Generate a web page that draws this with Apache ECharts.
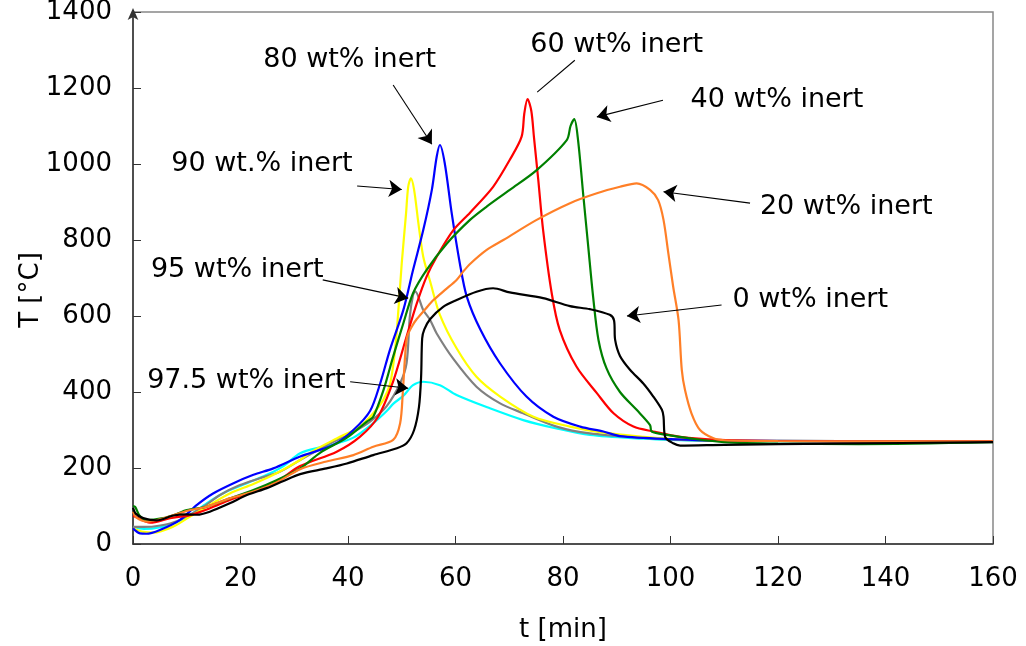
<!DOCTYPE html>
<html><head><meta charset="utf-8">
<script src="https://cdn.jsdelivr.net/npm/echarts@6/dist/echarts.min.js"></script>
<style>html,body{margin:0;padding:0;background:#fff}#c{width:1026px;height:646px}</style>
</head><body><div id="c"></div>
<script>
// axis ranges / ticks
const xMin = 0, xMax = 160, xStep = 20;
const yMin = 0, yMax = 1400, yStep = 200;
const xName = 't [min]';
const yName = 'T [°C]';

// series names and colours
const seriesNames = ['97.5 wt% inert','95 wt% inert','90 wt.% inert','80 wt% inert','60 wt% inert','40 wt% inert','20 wt% inert','0 wt% inert'];
const seriesColors = ['#00ffff','#808080','#ffff00','#0000ff','#ff0000','#008000','#ff7f27','#000000'];

// [t (min), T (°C)]
const inert97_5 = [[0,45],[2,40],[3.8,41],[7.5,54],[10.6,76],[13.7,107],[17.4,138],[21.2,160],[24.9,182],[28,205],[31.1,239],[35,255],[37.3,262],[41,280],[44.7,318],[47.2,350],[48.5,370],[50.3,390],[52.1,418],[54,427],[57.1,418],[60.2,392],[66.4,357],[72.6,326],[78.8,304],[85,287],[95,277],[100,274],[110,271],[160,270]];
const inert95 = [[0,45],[2,45],[3.8,46],[6.9,54],[10,72],[13.1,98],[16.2,129],[19.9,155],[23.6,173],[27.3,190],[31.1,221],[36,260],[41,295],[44.1,322],[47.2,363],[49.7,423],[50.9,476],[51.5,598],[52.1,655],[52.5,665],[54,616],[55.3,589],[56.5,554],[59.6,487],[63.9,414],[68.3,370],[72.6,344],[78.8,309],[85,291],[95,279],[100,275],[110,271],[160,270]];
const inert90 = [[0,41],[2,32],[3.8,30],[7.5,46],[10.6,72],[13.7,98],[18,133],[22.4,158],[26.7,186],[31.1,221],[33.5,245],[38.5,282],[42.2,309],[44.7,344],[46.6,380],[47.8,420],[48.5,480],[49.1,563],[50,739],[50.8,870],[51.2,940],[51.7,962],[52.3,932],[53.1,844],[54,756],[55.3,690],[57.1,603],[60.2,515],[63.9,440],[68.3,388],[74.5,335],[81.3,309],[87.5,293],[95,282],[100,277],[110,272],[160,270]];
const inert80 = [[0,41],[1.3,28],[2.5,27],[5,37],[8.7,63],[11.9,103],[14.9,133],[18.7,160],[22.4,182],[26.1,199],[31.1,230],[37.3,261],[41,300],[44.1,350],[46,423],[47.8,511],[50.3,616],[52.1,721],[54,826],[55.6,932],[56.5,1019],[57.1,1050],[58,1002],[59.3,870],[60.8,739],[62.1,651],[64.6,565],[68.3,475],[73.2,388],[78.2,335],[83.2,309],[87.5,296],[90.6,284],[100,276],[110,272],[160,270]];
const inert60 = [[0,75],[0.4,72],[3.2,56],[6.9,68],[10.6,76],[14.3,94],[18,116],[22.4,138],[26.7,164],[31.1,205],[37.9,243],[42.2,282],[45.6,335],[48.4,428],[50.9,546],[52.8,633],[54.6,703],[56.5,756],[59.6,826],[62.7,872],[67,940],[70.1,1011],[72.3,1072],[72.8,1133],[73.4,1171],[74.1,1140],[74.6,1070],[75.4,958],[76.3,826],[77.9,660],[79.4,563],[82.5,467],[86.3,397],[89.4,344],[93.1,309],[96.8,296],[101.8,282],[109.2,274],[120,271],[160,270]];
const inert40 = [[0,100],[0.4,98],[1.2,75],[2.5,63],[5.6,68],[8,78],[10,89],[13.7,98],[18,120],[22.4,142],[26.7,168],[31.1,199],[34.8,240],[39.8,280],[43.5,322],[44.7,335],[46.6,405],[48.4,493],[50.3,581],[52.1,660],[54.6,721],[58.4,791],[62.7,853],[65.8,888],[70.1,932],[75.1,984],[80.7,1063],[81.4,1100],[82.1,1118],[82.8,1063],[83.8,914],[84.7,782],[85.6,651],[86.6,537],[88.1,462],[90.6,400],[93.7,353],[96.2,313],[96.5,296],[99.3,287],[103.6,278],[110,268],[120,264],[135,263],[160,268]];
const inert20 = [[0,85],[0.6,70],[2.5,59],[6.3,70],[10,87],[13.7,98],[18,120],[22.4,138],[26.7,162],[31.1,197],[36,217],[41,234],[44.7,256],[48.4,274],[49.7,318],[50.2,400],[50.6,490],[51,545],[52,575],[52.8,592],[54.5,620],[55.9,642],[58,668],[60.2,695],[61.5,718],[62.7,737],[65.8,774],[68.9,800],[75.1,853],[81.3,897],[86.3,923],[90.6,940],[93.7,949],[96.2,932],[97.7,905],[98.7,853],[99.6,765],[100.5,677],[101.5,589],[102.1,458],[102.7,405],[103.9,344],[105.5,300],[108,278],[110,273],[120,271],[160,270]];
const inert0 = [[0,95],[0.5,80],[1.9,68],[4.4,62],[7.5,75],[10,78],[11.9,77],[14.3,85],[18,107],[21.2,129],[24.9,147],[28,166],[31.1,184],[36,199],[39.8,212],[44.7,234],[49.1,252],[50.9,265],[52.3,300],[53.2,360],[53.6,440],[53.8,541],[54.2,565],[55.3,592],[57.7,624],[60.2,642],[63.9,664],[67,673],[70.1,662],[76.3,647],[81.3,626],[85,618],[88.7,603],[89.5,588],[89.7,537],[90.6,495],[92.5,458],[94.9,423],[96.8,388],[98.4,353],[98.7,335],[99,282],[100.5,265],[101.8,259],[110,261],[130,264],[160,268]];
const seriesData = [inert97_5, inert95, inert90, inert80, inert60, inert40, inert20, inert0];

// annotations (data units)
const annotText = ['80 wt% inert','60 wt% inert','40 wt% inert','20 wt% inert','0 wt% inert','90 wt.% inert','95 wt% inert','97.5 wt% inert'];
const annotPos = [[40.3,1274],[90.0,1314],[119.8,1168],[132.7,886],[126.0,642],[24.0,999],[19.4,722],[21.1,429]];
const arrowFrom = [[48.4,1208],[82.2,1273],[98.6,1168],[114.8,897],[109.5,629],[41.7,942],[35.3,695],[40.4,427]];
const arrowTo   = [[55.6,1052],[75.2,1189],[86.3,1124],[98.7,927],[91.9,600],[50.0,933],[51.2,647],[51.2,410]];
const arrowHead = [true,false,true,true,true,true,true,true];

const FONT = 'DejaVu Sans';
const chart = echarts.init(document.getElementById('c'), null, {renderer:'canvas'});

const series = seriesData.map((d,i)=>({
  type:'line', name:seriesNames[i], data:d, showSymbol:false, smooth:0.3,
  lineStyle:{color:seriesColors[i], width:2.2}, itemStyle:{color:seriesColors[i]}, silent:true, z:3+i
}));
series.push({
  type:'lines', coordinateSystem:'cartesian2d', silent:true, z:20,
  symbol:['none','arrow'], symbolSize:[0,13],
  lineStyle:{color:'#000', width:1.1, opacity:1, curveness:0},
  data: arrowFrom.map((f,i)=>arrowHead[i]?{coords:[f,arrowTo[i]]}:null).filter(Boolean)
});
series.push({
  type:'lines', coordinateSystem:'cartesian2d', silent:true, z:20,
  symbol:['none','none'],
  lineStyle:{color:'#000', width:1.1, opacity:1, curveness:0},
  data: arrowFrom.map((f,i)=>!arrowHead[i]?{coords:[f,arrowTo[i]]}:null).filter(Boolean)
});
series.push({
  type:'scatter', silent:true, z:21, symbolSize:1, itemStyle:{color:'rgba(0,0,0,0)'},
  label:{show:true, position:'inside', formatter:'{b}', color:'#000', fontFamily:FONT, fontSize:27,
         textBorderWidth:0, textBorderColor:'transparent', opacity:1},
  data: annotPos.map((p,i)=>({name:annotText[i], value:p}))
});

chart.setOption({
  animation:false,
  backgroundColor:'#fff',
  grid:{left:133, right:33, top:12, bottom:102, show:true, borderColor:'#888', borderWidth:1.5, backgroundColor:'transparent',
        containLabel:false, outerBoundsMode:'none'},
  xAxis:{type:'value', min:xMin, max:xMax, interval:xStep,
    name:xName, nameLocation:'middle', nameGap:73,
    nameTextStyle:{fontFamily:FONT, fontSize:26, color:'#000'},
    axisLine:{show:true, onZero:false, lineStyle:{color:'#333', width:1.5}},
    axisTick:{show:true, inside:true, length:8, lineStyle:{color:'#333', width:1}},
    axisLabel:{fontFamily:FONT, fontSize:26, color:'#000', margin:22, formatter:v=>String(v)},
    splitLine:{show:false}},
  yAxis:{type:'value', min:yMin, max:yMax, interval:yStep,
    name:yName, nameLocation:'middle', nameGap:89, nameRotate:90, nameMoveOverlap:false,
    nameTextStyle:{fontFamily:FONT, fontSize:26, color:'#000', padding:[0,24,0,0]},
    axisLine:{show:true, onZero:false, symbol:['none','arrow'], symbolSize:[8,12], symbolOffset:[0,4], lineStyle:{color:'#333', width:1.5}},
    axisTick:{show:true, inside:true, length:8, lineStyle:{color:'#333', width:1}},
    axisLabel:{fontFamily:FONT, fontSize:26, color:'#000', margin:21, formatter:v=>String(v)},
    splitLine:{show:false}},
  series: series
});
</script></body></html>
